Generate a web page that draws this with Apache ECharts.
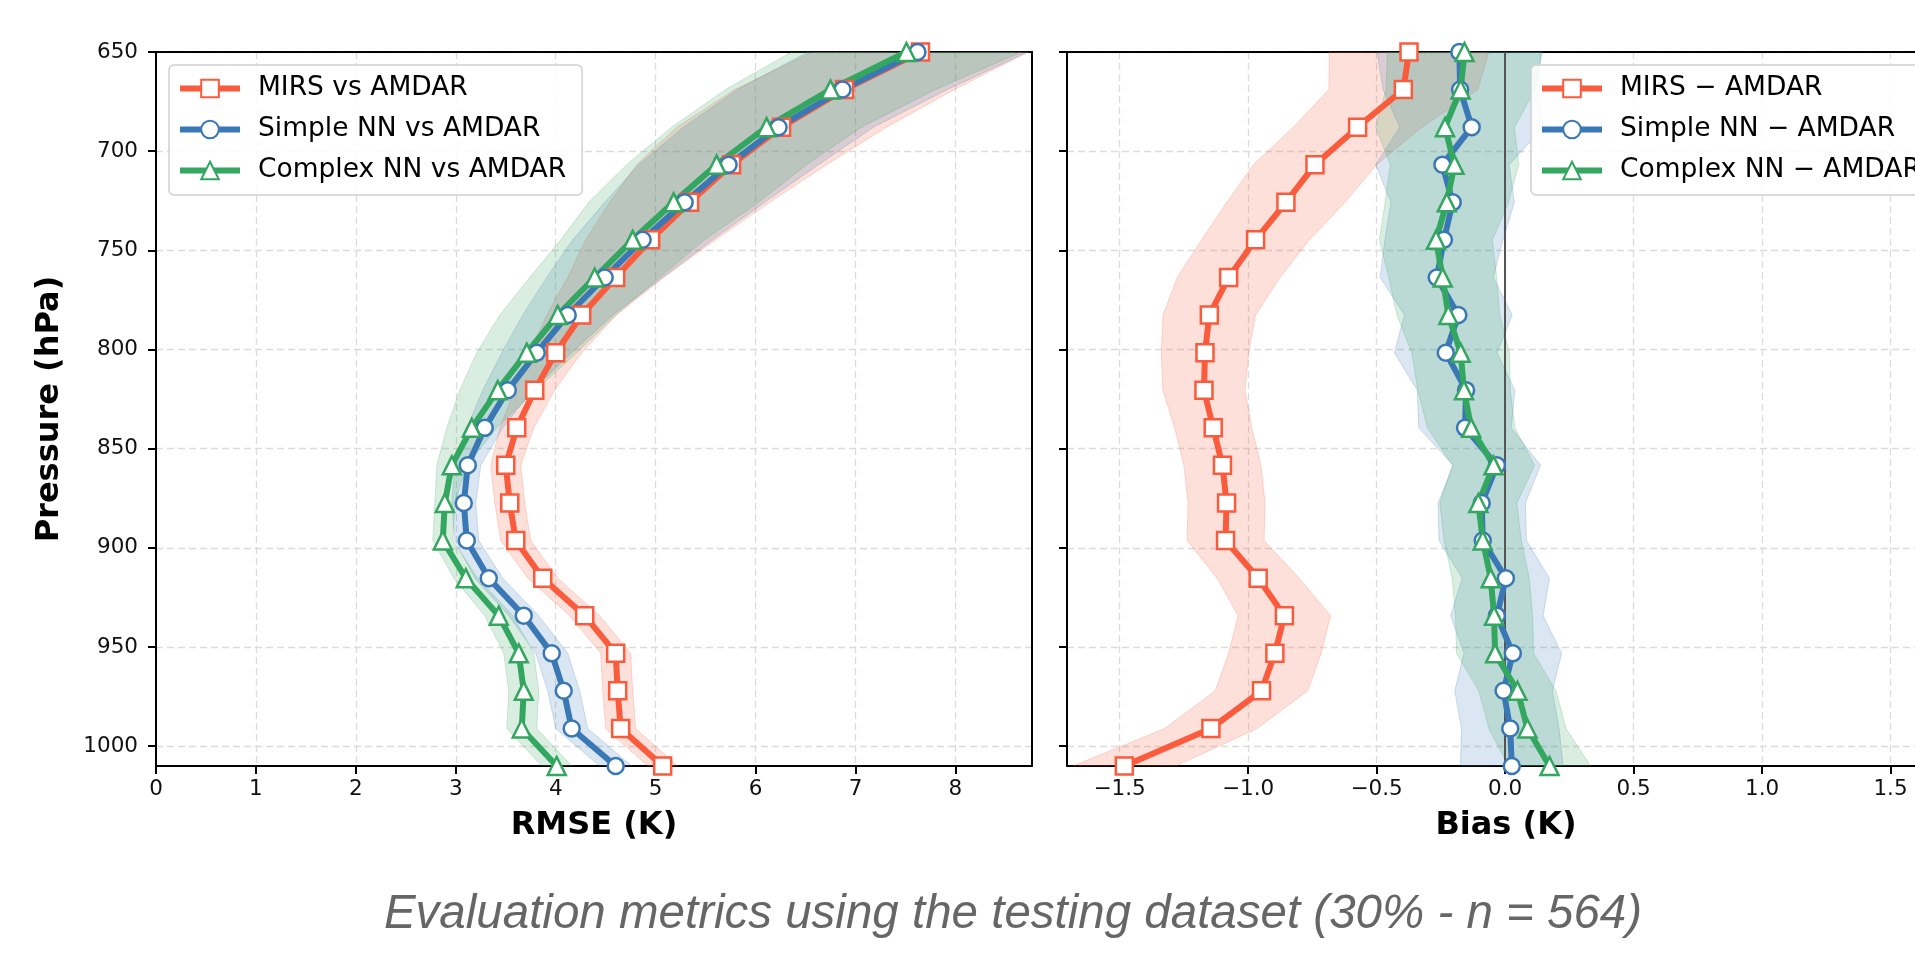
<!DOCTYPE html>
<html>
<head>
<meta charset="utf-8">
<title>RMSE and Bias profiles</title>
<script src="https://cdn.jsdelivr.net/npm/echarts@6/dist/echarts.min.js"></script>
<style>
  html, body { margin: 0; padding: 0; overflow: hidden; background: #fff; }
  #chart { width: 1950px; height: 955px; }
</style>
</head>
<body>
<div id="chart"></div>
<script>
// pressure levels (hPa)
const levels = [650, 668.9, 687.9, 706.8, 725.8, 744.7, 763.7, 782.6, 801.6, 820.5,
                839.5, 858.4, 877.4, 896.3, 915.3, 934.2, 953.2, 972.1, 991.1, 1010];

// RMSE (K) and spread
const mirsRmse    = [7.65, 6.89, 6.26, 5.76, 5.34, 4.95, 4.60, 4.26, 4.00, 3.79, 3.61, 3.50, 3.54, 3.60, 3.87, 4.29, 4.60, 4.62, 4.65, 5.07];
const simpleRmse  = [7.62, 6.87, 6.23, 5.73, 5.29, 4.87, 4.49, 4.12, 3.81, 3.52, 3.29, 3.12, 3.08, 3.11, 3.33, 3.68, 3.96, 4.08, 4.16, 4.60];
const complexRmse = [7.51, 6.75, 6.11, 5.61, 5.18, 4.77, 4.39, 4.02, 3.71, 3.42, 3.16, 2.96, 2.89, 2.87, 3.10, 3.43, 3.63, 3.68, 3.66, 4.01];
const mirsRmseStd    = [1.08, 1.10, 1.05, 0.95, 0.80, 0.65, 0.48, 0.35, 0.26, 0.20, 0.17, 0.15, 0.15, 0.15, 0.15, 0.15, 0.15, 0.15, 0.15, 0.15];
const simpleRmseStd  = [1.10, 1.05, 0.95, 0.90, 0.80, 0.70, 0.58, 0.45, 0.35, 0.25, 0.18, 0.13, 0.12, 0.12, 0.14, 0.15, 0.16, 0.16, 0.16, 0.16];
const complexRmseStd = [1.15, 1.05, 0.95, 0.90, 0.85, 0.72, 0.65, 0.58, 0.50, 0.38, 0.25, 0.15, 0.10, 0.10, 0.12, 0.14, 0.15, 0.15, 0.15, 0.15];

// Bias (K) and spread
const mirsBias    = [-0.374, -0.396, -0.574, -0.740, -0.853, -0.971, -1.076, -1.151, -1.168, -1.172, -1.136, -1.100, -1.084, -1.088, -0.961, -0.859, -0.896, -0.948, -1.145, -1.482];
const simpleBias  = [-0.178, -0.175, -0.130, -0.244, -0.204, -0.238, -0.266, -0.182, -0.231, -0.152, -0.156, -0.032, -0.091, -0.087, 0.003, -0.032, 0.030, -0.006, 0.020, 0.026];
const complexBias = [-0.158, -0.173, -0.234, -0.197, -0.227, -0.269, -0.243, -0.221, -0.173, -0.160, -0.132, -0.045, -0.104, -0.087, -0.056, -0.043, -0.039, 0.048, 0.087, 0.173];
const mirsBiasStd    = [0.31, 0.29, 0.25, 0.24, 0.23, 0.21, 0.20, 0.18, 0.17, 0.16, 0.15, 0.15, 0.15, 0.15, 0.16, 0.18, 0.18, 0.18, 0.18, 0.20];
const simpleBiasStd  = [0.32, 0.30, 0.28, 0.26, 0.24, 0.23, 0.22, 0.21, 0.20, 0.19, 0.18, 0.17, 0.17, 0.17, 0.17, 0.18, 0.19, 0.19, 0.19, 0.20];
const complexBiasStd = [0.30, 0.29, 0.27, 0.25, 0.24, 0.22, 0.21, 0.20, 0.19, 0.18, 0.17, 0.16, 0.15, 0.15, 0.15, 0.15, 0.15, 0.15, 0.15, 0.16];

// tick labels
const pressureTicks = [650, 700, 750, 800, 850, 900, 950, 1000];
const rmseTicks = [0, 1, 2, 3, 4, 5, 6, 7, 8];
const biasTicks = [-1.5, -1.0, -0.5, 0.0, 0.5, 1.0, 1.5];

const rmseNames = ['MIRS vs AMDAR', 'Simple NN vs AMDAR', 'Complex NN vs AMDAR'];
const biasNames = ['MIRS \u2212 AMDAR', 'Simple NN \u2212 AMDAR', 'Complex NN \u2212 AMDAR'];

const RED = '#f95b3c', BLUE = '#3a78b5', GREEN = '#33a660';
const FONT = 'DejaVu Sans';

function hexA(hex, a) {
    const n = parseInt(hex.slice(1), 16);
    return 'rgba(' + (n >> 16) + ',' + ((n >> 8) & 255) + ',' + (n & 255) + ',' + a + ')';
}

// shaded band (mean +/- std) as one polygon through the axis scales
function band(axisIdx, mean, std, color) {
    const lo = mean.map((m, i) => m - std[i]);
    const hi = mean.map((m, i) => m + std[i]);
    return {
        type: 'custom',
        xAxisIndex: axisIdx,
        yAxisIndex: axisIdx,
        silent: true,
        clip: true,
        z: 1,
        data: levels.map((p, i) => [lo[i], hi[i], p]),
        encode: { x: [0, 1], y: 2 },
        renderItem: function (params, api) {
            if (params.dataIndex !== 0) return null;
            const pts = [];
            for (let i = 0; i < levels.length; i++) pts.push(api.coord([lo[i], levels[i]]));
            for (let i = levels.length - 1; i >= 0; i--) pts.push(api.coord([hi[i], levels[i]]));
            return {
                type: 'polygon',
                shape: { points: pts },
                style: { fill: hexA(color, 0.19), stroke: hexA(color, 0.22), lineWidth: 1 }
            };
        }
    };
}

function profile(axisIdx, name, vals, color, symbol, size) {
    return {
        type: 'line',
        name: name,
        xAxisIndex: axisIdx,
        yAxisIndex: axisIdx,
        data: levels.map((p, i) => [vals[i], p]),
        symbol: symbol,
        symbolSize: size,
        showSymbol: true,
        z: 3,
        lineStyle: { color: color, width: 6 },
        itemStyle: { color: '#fff', borderColor: color, borderWidth: 2.5 },
        emphasis: { disabled: true }
    };
}

const gridLine = { show: true, lineStyle: { color: '#dcdcdc', width: 1.3, type: [7, 4] } };
const spine = { show: true, onZero: false, lineStyle: { color: '#000', width: 2 } };
const tickStyle = { show: true, length: 8, lineStyle: { color: '#000', width: 2 } };
const labelStyle = { fontFamily: FONT, fontSize: 21.5, color: '#111' };
const nameStyle = { fontFamily: FONT, fontSize: 32, fontWeight: 'bold', color: '#000' };

function legend(left, names) {
    return {
        data: names,
        orient: 'vertical',
        left: left,
        top: 65,
        itemWidth: 60,
        itemHeight: 22,
        itemGap: 14,
        padding: [10, 16, 11, 8],
        backgroundColor: 'rgba(255,255,255,0.85)',
        borderColor: '#d0d0d0',
        borderWidth: 1.5,
        borderRadius: 5,
        selectedMode: false,
        lineStyle: { width: 6 },
        textStyle: { fontFamily: FONT, fontSize: 26.5, lineHeight: 26, color: '#000', padding: [0, 0, 0, 13] }
    };
}

const chart = echarts.init(document.getElementById('chart'), null, { renderer: 'canvas' });

const option = {
    animation: false,
    backgroundColor: '#fff',
    grid: [
        { left: 156, top: 52, width: 876, height: 714 },
        { left: 1067, top: 52, width: 878, height: 714 }
    ],
    legend: [legend(169, rmseNames), legend(1531, biasNames)],
    xAxis: [
        {
            gridIndex: 0, type: 'value', min: 0, max: 8.766, position: 'bottom',
            axisLine: spine, axisTick: Object.assign({ customValues: rmseTicks }, tickStyle),
            axisLabel: Object.assign({ customValues: rmseTicks, margin: 12, formatter: v => String(v) }, labelStyle),
            splitLine: gridLine,
            name: 'RMSE (K)', nameLocation: 'middle', nameGap: 44, nameTextStyle: nameStyle
        },
        {
            gridIndex: 1, type: 'value', min: -1.705, max: 1.712, position: 'bottom',
            axisLine: spine, axisTick: Object.assign({ customValues: biasTicks }, tickStyle),
            axisLabel: Object.assign({
                customValues: biasTicks, margin: 12,
                formatter: v => (v < 0 ? '\u2212' : '') + Math.abs(v).toFixed(1)
            }, labelStyle),
            splitLine: gridLine,
            name: 'Bias (K)', nameLocation: 'middle', nameGap: 44, nameTextStyle: nameStyle
        },
        {
            gridIndex: 0, type: 'value', min: 0, max: 8.766, position: 'top',
            axisLine: spine, axisTick: { show: false }, axisLabel: { show: false }, splitLine: { show: false }
        },
        {
            gridIndex: 1, type: 'value', min: -1.705, max: 1.712, position: 'top',
            axisLine: spine, axisTick: { show: false }, axisLabel: { show: false }, splitLine: { show: false }
        }
    ],
    yAxis: [
        {
            gridIndex: 0, type: 'value', inverse: true, min: 650, max: 1010, position: 'left',
            axisLine: spine, axisTick: Object.assign({ customValues: pressureTicks }, tickStyle),
            axisLabel: Object.assign({ customValues: pressureTicks, margin: 18, formatter: v => String(v) }, labelStyle),
            splitLine: gridLine,
            name: 'Pressure (hPa)', nameLocation: 'middle', nameGap: 90, nameRotate: 90,
            nameTextStyle: nameStyle
        },
        {
            gridIndex: 1, type: 'value', inverse: true, min: 650, max: 1010, position: 'left',
            axisLine: spine, axisTick: Object.assign({ customValues: pressureTicks }, tickStyle),
            axisLabel: { show: false },
            splitLine: gridLine
        },
        {
            gridIndex: 0, type: 'value', inverse: true, min: 650, max: 1010, position: 'right',
            axisLine: spine, axisTick: { show: false }, axisLabel: { show: false }, splitLine: { show: false }
        }
    ],
    graphic: [{
        type: 'text',
        x: 1013,
        y: 915,
        style: {
            text: 'Evaluation metrics using the testing dataset (30% - n = 564)',
            font: 'italic 47.5px "Liberation Sans", Arial, sans-serif',
            fill: '#666',
            align: 'center',
            verticalAlign: 'middle'
        }
    }],
    series: [
        band(0, mirsRmse, mirsRmseStd, RED),
        band(0, simpleRmse, simpleRmseStd, BLUE),
        band(0, complexRmse, complexRmseStd, GREEN),
        band(1, mirsBias, mirsBiasStd, RED),
        band(1, simpleBias, simpleBiasStd, BLUE),
        band(1, complexBias, complexBiasStd, GREEN),
        profile(0, rmseNames[0], mirsRmse, RED, 'rect', 17),
        profile(0, rmseNames[1], simpleRmse, BLUE, 'circle', 16),
        profile(0, rmseNames[2], complexRmse, GREEN, 'triangle', 18),
        Object.assign(profile(1, biasNames[0], mirsBias, RED, 'rect', 17), {
            markLine: {
                silent: true,
                symbol: ['none', 'none'],
                z: 2,
                label: { show: false },
                lineStyle: { color: '#555', width: 2, type: 'solid' },
                data: [{ xAxis: 0 }]
            }
        }),
        profile(1, biasNames[1], simpleBias, BLUE, 'circle', 16),
        profile(1, biasNames[2], complexBias, GREEN, 'triangle', 18)
    ]
};

chart.setOption(option);
</script>
</body>
</html>
